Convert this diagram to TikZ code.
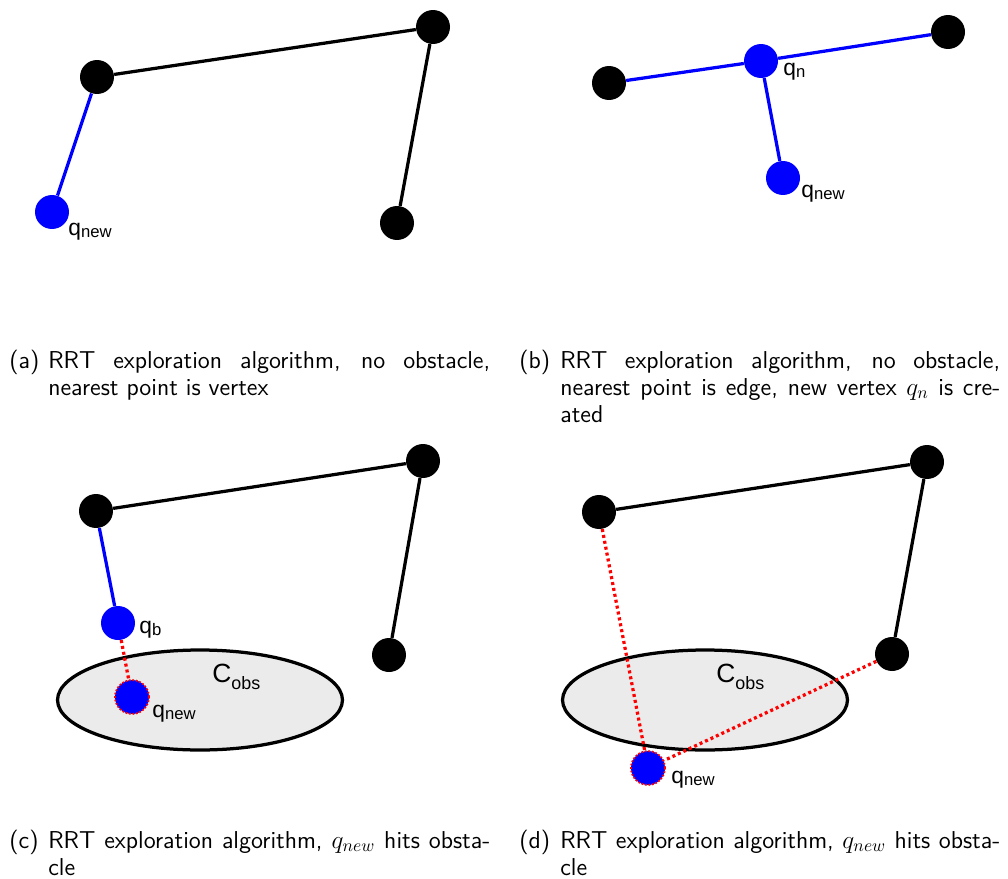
\documentclass[tikz,border=0pt]{standalone}
\usepackage{fontspec}
\usepackage{tikz}
\usetikzlibrary{shapes.geometric}
\newfontfamily\labelfont{Liberation Sans}
\def\subsize{9.5}
\newcommand{\ptlabel}[3][0.12em]{#2\raisebox{-#1}{\fontsize{\subsize}{\subsize}\selectfont #3}}

\begin{document}
\begin{tikzpicture}[
    x=0.02cm, y=-0.02cm,
    vertex/.style={circle, fill=black, inner sep=0pt, minimum size=0.68cm},
    newvertex/.style={vertex, fill=blue},
    hitvertex/.style={newvertex, draw=red, line width=0.035cm, dash pattern=on 0.035cm off 0.035cm},
    edge/.style={line width=0.065cm},
    newedge/.style={edge, blue},
    blocked/.style={line width=0.065cm, red, dash pattern=on 0.06cm off 0.06cm},
    obstacle/.style={ellipse, draw, line width=0.065cm, fill=black!8, minimum width=5.7cm, minimum height=2cm, inner sep=0pt},
    ptlbl/.style={anchor=base west, inner sep=0pt, font=\labelfont\fontsize{13}{13}\selectfont\def\subsize{9.5}},
    obslbl/.style={ptlbl, font=\labelfont\fontsize{15}{15}\selectfont\def\subsize{10.2}},
    caplbl/.style={anchor=base west, inner sep=0pt, font=\sffamily\fontsize{13.9}{15.4}\selectfont},
    captxt/.style={caplbl, align=justify, text width=#1}
]
    \useasboundingbox (0,0) rectangle (1008,879);

    % (a) nearest point is a vertex
    \node[vertex] (a1) at (97,77) {};
    \node[vertex] (a2) at (433,27) {};
    \node[vertex] (a3) at (397,223) {};
    \node[newvertex] (aqnew) at (52,212) {};
    \draw[edge] (a1) -- (a2);
    \draw[edge] (a2) -- (a3);
    \draw[newedge] (a1) -- (aqnew);
    \node[ptlbl] (aqnewlbl) at (68,235) {\ptlabel{q}{new}};

    % (b) nearest point on an edge
    \node[vertex] (b1) at (609,83) {};
    \node[newvertex] (bqn) at (761,61) {};
    \node[vertex] (b2) at (948,32) {};
    \node[newvertex] (bqnew) at (783,178) {};
    \draw[newedge] (b1) -- (bqn);
    \draw[newedge] (bqn) -- (b2);
    \draw[newedge] (bqn) -- (bqnew);
    \node[ptlbl] (bqnlbl) at (783,75) {\ptlabel{q}{n}};
    \node[ptlbl] (bqnewlbl) at (801,197) {\ptlabel{q}{new}};

    % (c) q_new inside the obstacle
    \node[obstacle] (cobs) at (200,700) {};
    \node[obslbl] (cobslbl) at (212,682) {\ptlabel[0.3em]{C}{obs}};
    \node[vertex] (c1) at (96,511) {};
    \node[vertex] (c2) at (423,461) {};
    \node[vertex] (c3) at (389,655) {};
    \node[newvertex] (cqb) at (118,623) {};
    \node[hitvertex] (cqnew) at (132,697) {};
    \draw[edge] (c1) -- (c2);
    \draw[edge] (c2) -- (c3);
    \draw[newedge] (c1) -- (cqb);
    \draw[blocked] (cqb) -- (cqnew);
    \node[ptlbl] (cqblbl) at (139,633) {\ptlabel{q}{b}};
    \node[ptlbl] (cqnewlbl) at (152,717) {\ptlabel{q}{new}};

    % (d) paths to q_new cross the obstacle
    \node[obstacle] (dobs) at (705,700) {};
    \node[obslbl] (dobslbl) at (716,682) {\ptlabel[0.3em]{C}{obs}};
    \node[vertex] (d1) at (599,512) {};
    \node[vertex] (d2) at (927,462) {};
    \node[vertex] (d3) at (892,654) {};
    \node[hitvertex] (dqnew) at (648,768) {};
    \draw[edge] (d1) -- (d2);
    \draw[edge] (d2) -- (d3);
    \draw[blocked] (d1) -- (dqnew);
    \draw[blocked] (d3) -- (dqnew);
    \node[ptlbl] (dqnewlbl) at (671,783) {\ptlabel{q}{new}};

    % captions
    \node[caplbl] (capa) at (9,368) {(a)};
    \node[captxt=8.84cm] (capatxt) at (48,368) {\tolerance=9999 RRT exploration algorithm, no obstacle,\linebreak nearest point is vertex};
    \node[caplbl] (capb) at (519,368) {(b)};
    \node[captxt=8.8cm] (capbtxt) at (560,368) {\tolerance=9999 RRT exploration algorithm, no obstacle,\linebreak nearest point is edge, new vertex $q_n$ is cre-\linebreak ated};
    \node[caplbl] (capc) at (9,848) {(c)};
    \node[captxt=8.84cm] (capctxt) at (48,848) {\tolerance=9999 RRT exploration algorithm, $q_{new}$ hits obsta-\linebreak cle};
    \node[caplbl] (capd) at (519,848) {(d)};
    \node[captxt=8.8cm] (capdtxt) at (560,848) {\tolerance=9999 RRT exploration algorithm, $q_{new}$ hits obsta-\linebreak cle};
\end{tikzpicture}
\end{document}
